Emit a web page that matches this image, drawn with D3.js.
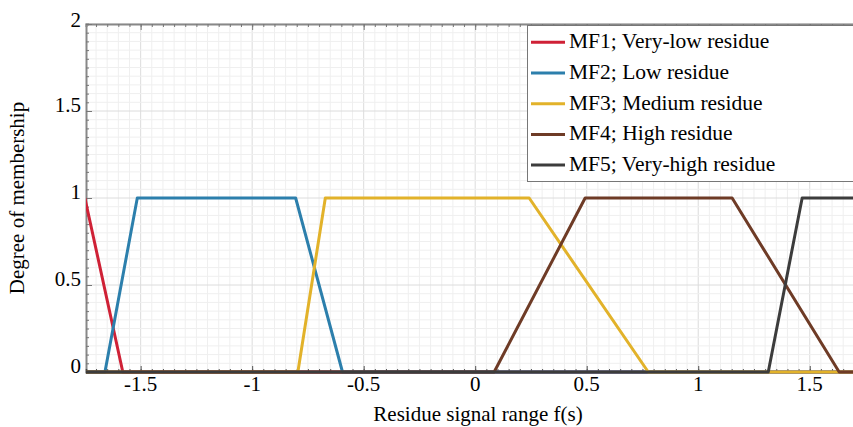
<!DOCTYPE html>
<html>
<head>
<meta charset="utf-8">
<script src="https://cdn.jsdelivr.net/npm/d3@7"></script>
<style>
  body { margin: 0; background: #fff; }
</style>
</head>
<body>
<div id="chart"></div>
<script>
var WIDTH = 853;
var HEIGHT = 427;
var FONT = '"Liberation Serif", "DejaVu Serif", serif';

// membership function break points (x) and degrees (y)
var seriesNames = ['MF1; Very-low residue', 'MF2; Low residue', 'MF3; Medium residue',
  'MF4; High residue', 'MF5; Very-high residue'];
var seriesColors = ['#cf2136', '#2c7fac', '#e2b22a', '#6e3b26', '#3c3c3c'];
var mf1X = [-1.75, -1.58, 1.75];
var mf1Y = [1, 0, 0];
var mf2X = [-1.75, -1.66, -1.515, -0.805, -0.595, 1.75];
var mf2Y = [0, 0, 1, 1, 0, 0];
var mf3X = [-1.75, -0.795, -0.672, 0.242, 0.776, 1.75];
var mf3Y = [0, 0, 1, 1, 0, 0];
var mf4X = [-1.75, 0.085, 0.493, 1.152, 1.632, 1.75];
var mf4Y = [0, 0, 1, 1, 0, 0];
var mf5X = [-1.75, 1.314, 1.466, 1.75];
var mf5Y = [0, 0, 1, 1];

var xTicks = [-1.5, -1, -0.5, 0, 0.5, 1, 1.5];
var yTicks = [0, 0.5, 1, 1.5, 2];

(function () {
  'use strict';

  var xs = [mf1X, mf2X, mf3X, mf4X, mf5X];
  var ys = [mf1Y, mf2Y, mf3Y, mf4Y, mf5Y];
  var series = seriesNames.map(function(name, i) {
    return {
      name: name,
      color: seriesColors[i],
      points: xs[i].map(function(xv, j) { return [xv, ys[i][j]]; })
    };
  });

  var pLeft = 86, pRight = 865.5, pTop = 24, pBottom = 372;

  var x = d3.scaleLinear().domain([-1.745, 1.75]).range([pLeft, pRight]);
  var y = d3.scaleLinear().domain([0, 2]).range([pBottom, pTop]);

  var svg = d3.select('#chart').append('svg')
    .attr('width', WIDTH)
    .attr('height', HEIGHT)
    .style('font-family', FONT)
    .style('display', 'block');

  svg.append('defs').append('clipPath').attr('id', 'plot-clip')
    .append('rect')
    .attr('x', pLeft).attr('y', pTop - 2)
    .attr('width', pRight - pLeft).attr('height', pBottom - pTop + 4);

  var round2 = function(v) { return Math.round(v * 100) / 100; };
  var isMajor = function(d) { return Math.abs(d * 2 - Math.round(d * 2)) < 1e-6; };
  var minorX = d3.range(-1.7, 1.76, 0.05).map(round2);
  var minorY = d3.range(0, 2.001, 0.05).map(round2);

  // grid
  var grid = svg.append('g');
  grid.selectAll('line.gx').data(minorX).enter().append('line')
    .attr('x1', function(d) { return x(d); }).attr('x2', function(d) { return x(d); })
    .attr('y1', pTop).attr('y2', pBottom)
    .attr('stroke', function(d) { return isMajor(d) ? '#dcdcdc' : '#efefef'; })
    .attr('stroke-width', 1);
  grid.selectAll('line.gy').data(minorY).enter().append('line')
    .attr('x1', pLeft).attr('x2', pRight)
    .attr('y1', function(d) { return y(d); }).attr('y2', function(d) { return y(d); })
    .attr('stroke', function(d) { return isMajor(d) ? '#dcdcdc' : '#efefef'; })
    .attr('stroke-width', 1);

  // axes frame with inward minor ticks
  svg.append('g').attr('transform', 'translate(0,' + pTop + ')')
    .call(d3.axisTop(x).tickValues(minorX).tickSize(-3).tickFormat(''))
    .call(function(g) { g.select('.domain').attr('stroke', '#888').attr('stroke-width', 2); g.selectAll('.tick line').attr('stroke', '#777'); });
  svg.append('g').attr('transform', 'translate(' + pLeft + ',0)')
    .call(d3.axisLeft(y).tickValues(minorY).tickSize(-3).tickFormat(''))
    .call(function(g) { g.select('.domain').attr('stroke', '#888').attr('stroke-width', 2); g.selectAll('.tick line').attr('stroke', '#777'); });
  svg.append('g').attr('transform', 'translate(0,' + pBottom + ')')
    .call(d3.axisBottom(x).tickValues(minorX).tickSize(-3).tickFormat(''))
    .call(function(g) { g.select('.domain').attr('stroke', '#444').attr('stroke-width', 1.5); g.selectAll('.tick line').attr('stroke', '#555'); });

  // major ticks (longer)
  svg.append('g').attr('transform', 'translate(0,' + pTop + ')')
    .call(d3.axisTop(x).tickValues(xTicks).tickSize(-6).tickFormat(''))
    .call(function(g) { g.select('.domain').remove(); g.selectAll('.tick line').attr('stroke', '#777'); });
  svg.append('g').attr('transform', 'translate(0,' + pBottom + ')')
    .call(d3.axisBottom(x).tickValues(xTicks).tickSize(-6).tickFormat(''))
    .call(function(g) { g.select('.domain').remove(); g.selectAll('.tick line').attr('stroke', '#555'); });
  svg.append('g').attr('transform', 'translate(' + pLeft + ',0)')
    .call(d3.axisLeft(y).tickValues(yTicks).tickSize(-6).tickFormat(''))
    .call(function(g) { g.select('.domain').remove(); g.selectAll('.tick line').attr('stroke', '#777'); });

  // tick labels
  svg.append('g').selectAll('text').data(xTicks).enter().append('text')
    .attr('x', function(d) { return x(d); })
    .attr('y', 391)
    .attr('text-anchor', 'middle')
    .attr('font-size', 21)
    .text(function(d) { return d; });
  svg.append('g').selectAll('text').data(yTicks).enter().append('text')
    .attr('x', 81)
    .attr('y', function(d) { return y(d) + (d === 2 ? 3 : 1); })
    .attr('text-anchor', 'end')
    .attr('font-size', 21)
    .text(function(d) { return d; });

  // axis titles
  svg.append('text')
    .attr('x', 478).attr('y', 421)
    .attr('text-anchor', 'middle')
    .attr('font-size', 21)
    .text('Residue signal range f(s)');
  svg.append('text')
    .attr('transform', 'translate(24,198) rotate(-90)')
    .attr('text-anchor', 'middle')
    .attr('font-size', 21)
    .text('Degree of membership');

  // membership functions
  var line = d3.line()
    .x(function(d) { return x(d[0]); })
    .y(function(d) { return y(d[1]); });

  svg.append('g').attr('clip-path', 'url(#plot-clip)')
    .selectAll('path').data(series).enter().append('path')
    .attr('d', function(d) { return line(d.points); })
    .attr('fill', 'none')
    .attr('stroke', function(d) { return d.color; })
    .attr('stroke-width', 3)
    .attr('stroke-linejoin', 'round');

  // legend
  var legend = svg.append('g');
  legend.append('rect')
    .attr('x', 527.5).attr('y', 25.5)
    .attr('width', 340).attr('height', 156)
    .attr('fill', '#fff')
    .attr('stroke', '#777')
    .attr('stroke-width', 1);

  var entries = legend.selectAll('g.entry').data(series).enter().append('g')
    .attr('transform', function(d, i) { return 'translate(0,' + (42.3 + i * 30.7) + ')'; });
  entries.append('line')
    .attr('x1', 531).attr('x2', 565)
    .attr('y1', 0).attr('y2', 0)
    .attr('stroke', function(d) { return d.color; })
    .attr('stroke-width', 3);
  entries.append('text')
    .attr('x', 569).attr('y', 6)
    .attr('font-size', 21.5)
    .text(function(d) { return d.name; });
})();
</script>
</body>
</html>
